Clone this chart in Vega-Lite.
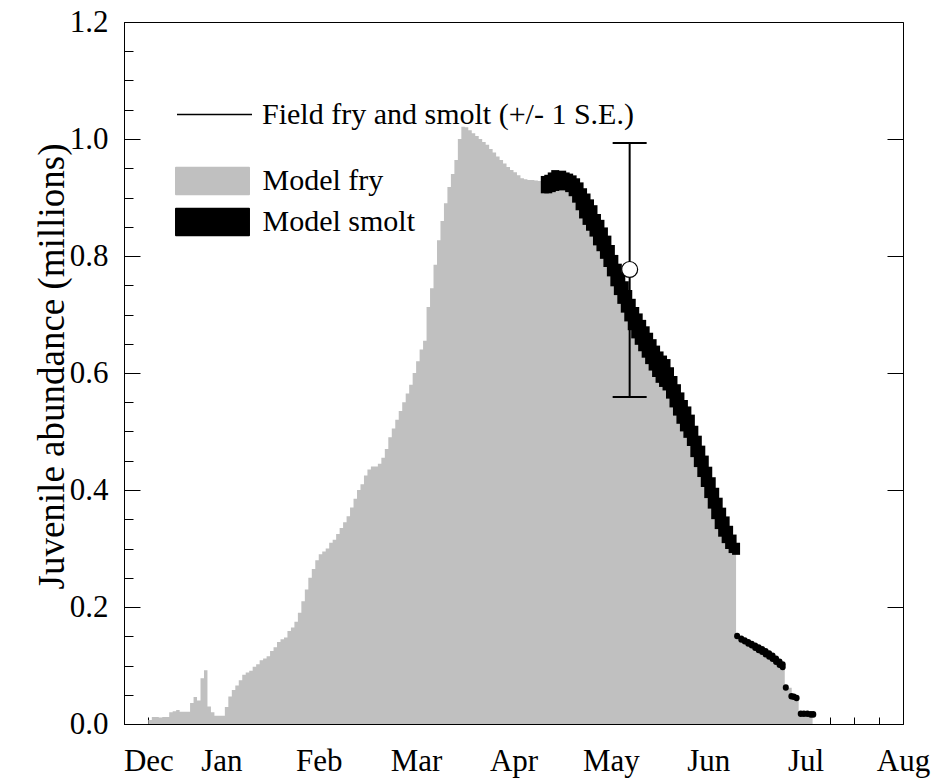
{
  "$schema": "https://vega.github.io/schema/vega-lite/v6.json",
  "width": 779,
  "height": 702,
  "autosize": {"type": "none"},
  "padding": {"left": 124, "top": 22, "right": 33, "bottom": 56},
  "background": "white",
  "config": {
    "view": {"stroke": "black", "strokeWidth": 1},
    "font": "Liberation Serif",
    "axis": {
      "labelFont": "Liberation Serif", "titleFont": "Liberation Serif",
      "labelColor": "black", "titleColor": "black", "tickColor": "black", "domainColor": "black",
      "grid": false, "labelFontSize": 31, "labelFlush": false, "labelOverlap": false
    },
    "legend": {"labelFont": "Liberation Serif", "labelFontSize": 30, "labelColor": "black", "labelLimit": 600, "padding": 0}
  },
  "datasets": {
    "fry": [
      {"day": 0, "total": 0.007}, {"day": 1, "total": 0.012}, {"day": 2, "total": 0.012}, {"day": 3, "total": 0.011},
      {"day": 4, "total": 0.012}, {"day": 5, "total": 0.012}, {"day": 6, "total": 0.020}, {"day": 7, "total": 0.022},
      {"day": 8, "total": 0.024}, {"day": 9, "total": 0.021}, {"day": 10, "total": 0.021}, {"day": 11, "total": 0.021},
      {"day": 12, "total": 0.036}, {"day": 13, "total": 0.046}, {"day": 14, "total": 0.040}, {"day": 15, "total": 0.078},
      {"day": 16, "total": 0.092}, {"day": 17, "total": 0.030}, {"day": 18, "total": 0.020}, {"day": 19, "total": 0.014},
      {"day": 20, "total": 0.014}, {"day": 21, "total": 0.014}, {"day": 22, "total": 0.029}, {"day": 23, "total": 0.047},
      {"day": 24, "total": 0.058}, {"day": 25, "total": 0.066}, {"day": 26, "total": 0.075}, {"day": 27, "total": 0.084},
      {"day": 28, "total": 0.088}, {"day": 29, "total": 0.091}, {"day": 30, "total": 0.098}, {"day": 31, "total": 0.102},
      {"day": 32, "total": 0.109}, {"day": 33, "total": 0.112}, {"day": 34, "total": 0.116}, {"day": 35, "total": 0.125},
      {"day": 36, "total": 0.131}, {"day": 37, "total": 0.140}, {"day": 38, "total": 0.145}, {"day": 39, "total": 0.148},
      {"day": 40, "total": 0.159}, {"day": 41, "total": 0.165}, {"day": 42, "total": 0.175}, {"day": 43, "total": 0.190},
      {"day": 44, "total": 0.210}, {"day": 45, "total": 0.230}, {"day": 46, "total": 0.250}, {"day": 47, "total": 0.265},
      {"day": 48, "total": 0.280}, {"day": 49, "total": 0.290}, {"day": 50, "total": 0.295}, {"day": 51, "total": 0.300},
      {"day": 52, "total": 0.310}, {"day": 53, "total": 0.315}, {"day": 54, "total": 0.325}, {"day": 55, "total": 0.335},
      {"day": 56, "total": 0.345}, {"day": 57, "total": 0.355}, {"day": 58, "total": 0.370}, {"day": 59, "total": 0.385},
      {"day": 60, "total": 0.400}, {"day": 61, "total": 0.410}, {"day": 62, "total": 0.425}, {"day": 63, "total": 0.435},
      {"day": 64, "total": 0.440}, {"day": 65, "total": 0.440}, {"day": 66, "total": 0.445}, {"day": 67, "total": 0.455},
      {"day": 68, "total": 0.470}, {"day": 69, "total": 0.490}, {"day": 70, "total": 0.505}, {"day": 71, "total": 0.520},
      {"day": 72, "total": 0.535}, {"day": 73, "total": 0.550}, {"day": 74, "total": 0.565}, {"day": 75, "total": 0.580},
      {"day": 76, "total": 0.600}, {"day": 77, "total": 0.620}, {"day": 78, "total": 0.640}, {"day": 79, "total": 0.655},
      {"day": 80, "total": 0.713}, {"day": 81, "total": 0.745}, {"day": 82, "total": 0.785}, {"day": 83, "total": 0.827},
      {"day": 84, "total": 0.860}, {"day": 85, "total": 0.890}, {"day": 86, "total": 0.918}, {"day": 87, "total": 0.940},
      {"day": 88, "total": 0.964}, {"day": 89, "total": 1.000}, {"day": 90, "total": 1.021}, {"day": 91, "total": 1.020},
      {"day": 92, "total": 1.015}, {"day": 93, "total": 1.010}, {"day": 94, "total": 1.005}, {"day": 95, "total": 1.000},
      {"day": 96, "total": 0.995}, {"day": 97, "total": 0.990}, {"day": 98, "total": 0.983}, {"day": 99, "total": 0.977},
      {"day": 100, "total": 0.970}, {"day": 101, "total": 0.964}, {"day": 102, "total": 0.958}, {"day": 103, "total": 0.952},
      {"day": 104, "total": 0.947}, {"day": 105, "total": 0.943}, {"day": 106, "total": 0.938}, {"day": 107, "total": 0.933},
      {"day": 108, "total": 0.931}, {"day": 109, "total": 0.930}, {"day": 110, "total": 0.930}, {"day": 111, "total": 0.929},
      {"day": 112, "total": 0.928}, {"day": 113, "total": 0.926}, {"day": 114, "total": 0.918}, {"day": 115, "total": 0.918},
      {"day": 116, "total": 0.920}, {"day": 117, "total": 0.922}, {"day": 118, "total": 0.924}, {"day": 119, "total": 0.923},
      {"day": 120, "total": 0.924}, {"day": 121, "total": 0.920}, {"day": 122, "total": 0.913}, {"day": 123, "total": 0.902},
      {"day": 124, "total": 0.889}, {"day": 125, "total": 0.875}, {"day": 126, "total": 0.864}, {"day": 127, "total": 0.854},
      {"day": 128, "total": 0.844}, {"day": 129, "total": 0.829}, {"day": 130, "total": 0.819}, {"day": 131, "total": 0.806},
      {"day": 132, "total": 0.792}, {"day": 133, "total": 0.776}, {"day": 134, "total": 0.759}, {"day": 135, "total": 0.744},
      {"day": 136, "total": 0.729}, {"day": 137, "total": 0.714}, {"day": 138, "total": 0.699}, {"day": 139, "total": 0.684},
      {"day": 140, "total": 0.670}, {"day": 141, "total": 0.659}, {"day": 142, "total": 0.648}, {"day": 143, "total": 0.637},
      {"day": 144, "total": 0.626}, {"day": 145, "total": 0.615}, {"day": 146, "total": 0.604}, {"day": 147, "total": 0.594},
      {"day": 148, "total": 0.587}, {"day": 149, "total": 0.581}, {"day": 150, "total": 0.567}, {"day": 151, "total": 0.552},
      {"day": 152, "total": 0.538}, {"day": 153, "total": 0.524}, {"day": 154, "total": 0.511}, {"day": 155, "total": 0.500},
      {"day": 156, "total": 0.486}, {"day": 157, "total": 0.467}, {"day": 158, "total": 0.450}, {"day": 159, "total": 0.433},
      {"day": 160, "total": 0.416}, {"day": 161, "total": 0.397}, {"day": 162, "total": 0.379}, {"day": 163, "total": 0.361},
      {"day": 164, "total": 0.344}, {"day": 165, "total": 0.331}, {"day": 166, "total": 0.320}, {"day": 167, "total": 0.310},
      {"day": 168, "total": 0.303}, {"day": 169, "total": 0.147}, {"day": 170, "total": 0.143}, {"day": 171, "total": 0.140},
      {"day": 172, "total": 0.137}, {"day": 173, "total": 0.133}, {"day": 174, "total": 0.130}, {"day": 175, "total": 0.127},
      {"day": 176, "total": 0.124}, {"day": 177, "total": 0.120}, {"day": 178, "total": 0.117}, {"day": 179, "total": 0.112},
      {"day": 180, "total": 0.108}, {"day": 181, "total": 0.103}, {"day": 182, "total": 0.097}, {"day": 183, "total": 0.062},
      {"day": 184, "total": 0.062}, {"day": 185, "total": 0.044}, {"day": 186, "total": 0.044}, {"day": 187, "total": 0.017},
      {"day": 188, "total": 0.017}, {"day": 189, "total": 0.016}, {"day": 190, "total": 0.016}, {"day": 191, "total": 0}
    ],
    "smolt": [
      {"day": 114, "lo": 0.914, "hi": 0.930}, {"day": 115, "lo": 0.914, "hi": 0.932}, {"day": 116, "lo": 0.916, "hi": 0.936},
      {"day": 117, "lo": 0.918, "hi": 0.940}, {"day": 118, "lo": 0.920, "hi": 0.936}, {"day": 119, "lo": 0.919, "hi": 0.939},
      {"day": 120, "lo": 0.920, "hi": 0.936}, {"day": 121, "lo": 0.916, "hi": 0.934}, {"day": 122, "lo": 0.909, "hi": 0.931},
      {"day": 123, "lo": 0.898, "hi": 0.926}, {"day": 124, "lo": 0.885, "hi": 0.919}, {"day": 125, "lo": 0.871, "hi": 0.909},
      {"day": 126, "lo": 0.860, "hi": 0.900}, {"day": 127, "lo": 0.850, "hi": 0.890}, {"day": 128, "lo": 0.840, "hi": 0.880},
      {"day": 129, "lo": 0.825, "hi": 0.865}, {"day": 130, "lo": 0.815, "hi": 0.855}, {"day": 131, "lo": 0.802, "hi": 0.842},
      {"day": 132, "lo": 0.788, "hi": 0.828}, {"day": 133, "lo": 0.772, "hi": 0.812}, {"day": 134, "lo": 0.755, "hi": 0.795},
      {"day": 135, "lo": 0.740, "hi": 0.780}, {"day": 136, "lo": 0.725, "hi": 0.765}, {"day": 137, "lo": 0.710, "hi": 0.750},
      {"day": 138, "lo": 0.695, "hi": 0.735}, {"day": 139, "lo": 0.680, "hi": 0.720}, {"day": 140, "lo": 0.666, "hi": 0.706},
      {"day": 141, "lo": 0.655, "hi": 0.695}, {"day": 142, "lo": 0.644, "hi": 0.684}, {"day": 143, "lo": 0.633, "hi": 0.673},
      {"day": 144, "lo": 0.622, "hi": 0.662}, {"day": 145, "lo": 0.611, "hi": 0.651}, {"day": 146, "lo": 0.600, "hi": 0.640},
      {"day": 147, "lo": 0.590, "hi": 0.630}, {"day": 148, "lo": 0.583, "hi": 0.623}, {"day": 149, "lo": 0.577, "hi": 0.617},
      {"day": 150, "lo": 0.563, "hi": 0.603}, {"day": 151, "lo": 0.548, "hi": 0.588}, {"day": 152, "lo": 0.534, "hi": 0.574},
      {"day": 153, "lo": 0.520, "hi": 0.560}, {"day": 154, "lo": 0.507, "hi": 0.547}, {"day": 155, "lo": 0.496, "hi": 0.536},
      {"day": 156, "lo": 0.482, "hi": 0.522}, {"day": 157, "lo": 0.463, "hi": 0.503}, {"day": 158, "lo": 0.446, "hi": 0.486},
      {"day": 159, "lo": 0.429, "hi": 0.469}, {"day": 160, "lo": 0.412, "hi": 0.452}, {"day": 161, "lo": 0.393, "hi": 0.433},
      {"day": 162, "lo": 0.375, "hi": 0.415}, {"day": 163, "lo": 0.357, "hi": 0.397}, {"day": 164, "lo": 0.340, "hi": 0.380},
      {"day": 165, "lo": 0.327, "hi": 0.363}, {"day": 166, "lo": 0.316, "hi": 0.348}, {"day": 167, "lo": 0.306, "hi": 0.332},
      {"day": 168, "lo": 0.299, "hi": 0.317}, {"day": 169, "lo": 0.296, "hi": 0.303},
      {"day": 169.3, "lo": 0.150, "hi": 0.151}, {"day": 170.5, "lo": 0.144, "hi": 0.146}, {"day": 171.5, "lo": 0.141, "hi": 0.143},
      {"day": 172.5, "lo": 0.137, "hi": 0.140}, {"day": 173.5, "lo": 0.134, "hi": 0.137}, {"day": 174.5, "lo": 0.130, "hi": 0.134},
      {"day": 175.5, "lo": 0.126, "hi": 0.131}, {"day": 176.5, "lo": 0.123, "hi": 0.128}, {"day": 177.5, "lo": 0.119, "hi": 0.125},
      {"day": 178.5, "lo": 0.115, "hi": 0.121}, {"day": 179.5, "lo": 0.111, "hi": 0.117}, {"day": 180.5, "lo": 0.106, "hi": 0.112},
      {"day": 181.5, "lo": 0.101, "hi": 0.107}, {"day": 182.4, "lo": 0.097, "hi": 0.102}, {"day": 183.3, "lo": 0.062, "hi": 0.063},
      {"day": 184.9, "lo": 0.047, "hi": 0.048}, {"day": 185.6, "lo": 0.046, "hi": 0.047}, {"day": 186.4, "lo": 0.044, "hi": 0.045},
      {"day": 187.6, "lo": 0.017, "hi": 0.018}, {"day": 188.5, "lo": 0.017, "hi": 0.018}, {"day": 189.5, "lo": 0.017, "hi": 0.018},
      {"day": 190.5, "lo": 0.016, "hi": 0.017}, {"day": 191.2, "lo": 0.016, "hi": 0.017}
    ],
    "field": [
      {"day": 138.4, "mean": 0.777, "lo": 0.559, "hi": 0.993}
    ]
  },
  "layer": [
    {
      "data": {"name": "fry"},
      "mark": {"type": "area", "interpolate": "step-after"},
      "encoding": {
        "x": {
          "field": "day", "type": "quantitative",
          "scale": {"domain": [-7, 217], "nice": false, "zero": false},
          "axis": {
            "orient": "bottom",
            "values": [0, 7, 14, 21, 28, 35, 42, 49, 56, 63, 70, 77, 84, 91, 98, 105, 112, 119, 126, 133, 140, 147, 154, 161, 168, 175, 182, 189, 196, 203, 210],
            "labels": false, "domain": false, "tickSize": -7, "tickWidth": 1, "tickColor": "black", "title": null, "zindex": 0
          }
        },
        "y": {
          "field": "total", "type": "quantitative",
          "scale": {"domain": [0, 1.2], "nice": false},
          "axis": {
            "orient": "left",
            "values": [0, 0.2, 0.4, 0.6, 0.8, 1.0, 1.2],
            "format": ".1f", "tickSize": -16, "tickWidth": 1, "tickColor": "black",
            "labelFont": "Liberation Serif", "labelFontSize": 31, "labelColor": "black", "labelPadding": 32, "domain": false,
            "title": "Juvenile abundance (millions)", "titleFont": "Liberation Serif", "titleFontSize": 37,
            "titleFontWeight": "normal", "titleColor": "black", "titlePadding": -2, "titleY": 344,
            "zindex": 0
          }
        },
        "fill": {
          "datum": "Model fry", "type": "nominal",
          "scale": {"domain": ["Model fry", "Model smolt"], "range": ["#c0c0c0", "#000000"]},
          "legend": {
            "title": null, "orient": "none", "legendX": 62.5, "legendY": 133,
            "symbolType": "M-1.442,-0.51Q-1.442,-0.548 -1.404,-0.548H1.404Q1.442,-0.548 1.442,-0.51V0.51Q1.442,0.548 1.404,0.548H-1.404Q-1.442,0.548 -1.442,0.51Z",
            "symbolSize": 2704, "symbolStrokeWidth": 0, "symbolStrokeColor": "transparent", "rowPadding": 0, "labelOffset": 24,
            "labelFont": "Liberation Serif", "labelFontSize": 30
          }
        }
      }
    },
    {
      "data": {"name": "smolt"},
      "transform": [{"filter": "datum.day <= 169"}],
      "mark": {"type": "rule", "color": "black", "strokeWidth": 8, "strokeCap": "square"},
      "encoding": {
        "x": {
          "field": "day", "type": "quantitative",
          "axis": {
            "orient": "bottom",
            "values": [0, 21, 49, 77, 105, 133, 161, 189, 217],
            "labelExpr": "datum.value == 0 ? 'Dec' : datum.value == 21 ? 'Jan' : datum.value == 49 ? 'Feb' : datum.value == 77 ? 'Mar' : datum.value == 105 ? 'Apr' : datum.value == 133 ? 'May' : datum.value == 161 ? 'Jun' : datum.value == 189 ? 'Jul' : 'Aug'",
            "labelFont": "Liberation Serif", "labelFontSize": 31, "labelColor": "black",
            "ticks": false, "domain": true, "domainWidth": 1, "domainColor": "black", "labelPadding": 22, "title": null, "zindex": 1
          }
        },
        "y": {
          "field": "lo", "type": "quantitative",
          "axis": {
            "orient": "left",
            "values": [0, 0.05, 0.1, 0.15, 0.2, 0.25, 0.3, 0.35, 0.4, 0.45, 0.5, 0.55, 0.6, 0.65, 0.7, 0.75, 0.8, 0.85, 0.9, 0.95, 1.0, 1.05, 1.1, 1.15, 1.2],
            "labels": false, "domain": true, "domainColor": "black", "tickSize": -9, "tickWidth": 1, "tickColor": "black", "title": null, "zindex": 1
          }
        },
        "y2": {"field": "hi"}
      }
    },
    {
      "data": {"name": "smolt"},
      "transform": [{"filter": "datum.day > 169"}],
      "mark": {"type": "rule", "color": "black", "strokeWidth": 6, "strokeCap": "round"},
      "encoding": {
        "x": {"field": "day", "type": "quantitative", "axis": null},
        "y": {"field": "lo", "type": "quantitative", "axis": null},
        "y2": {"field": "hi"}
      }
    },
    {
      "data": {"name": "field"},
      "mark": {"type": "rule", "color": "black", "strokeWidth": 2},
      "encoding": {
        "x": {"field": "day", "type": "quantitative", "axis": null},
        "y": {
          "field": "lo", "type": "quantitative",
          "axis": {
            "orient": "right", "values": [0.2, 0.4, 0.6, 0.8, 1.0],
            "labels": false, "domain": true, "domainColor": "black", "tickSize": -16, "tickWidth": 1, "tickColor": "black", "title": null, "zindex": 1
          }
        },
        "y2": {"field": "hi"},
        "strokeDash": {
          "datum": "Field fry and smolt (+/- 1 S.E.)", "type": "nominal",
          "scale": {"range": [[1, 0]]},
          "legend": {
            "title": null, "orient": "none", "legendX": 52, "legendY": 54,
            "symbolType": "stroke", "symbolSize": 5625, "symbolStrokeWidth": 1.5, "symbolStrokeColor": "black",
            "labelOffset": 9, "labelFont": "Liberation Serif", "labelFontSize": 30
          }
        }
      }
    },
    {
      "data": {"name": "field"},
      "mark": {"type": "tick", "orient": "horizontal", "color": "black", "size": 34, "thickness": 2, "opacity": 1},
      "encoding": {
        "x": {"field": "day", "type": "quantitative", "axis": null},
        "y": {"field": "hi", "type": "quantitative", "axis": null}
      }
    },
    {
      "data": {"name": "field"},
      "mark": {"type": "tick", "orient": "horizontal", "color": "black", "size": 34, "thickness": 2, "opacity": 1},
      "encoding": {
        "x": {"field": "day", "type": "quantitative", "axis": null},
        "y": {"field": "lo", "type": "quantitative", "axis": null}
      }
    },
    {
      "data": {"name": "field"},
      "mark": {"type": "point", "shape": "circle", "filled": true, "fill": "white", "stroke": "black", "strokeWidth": 1.2, "size": 254, "opacity": 1},
      "encoding": {
        "x": {"field": "day", "type": "quantitative", "axis": null},
        "y": {"field": "mean", "type": "quantitative", "axis": null}
      }
    }
  ],
  "resolve": {"axis": {"x": "independent", "y": "independent"}}
}
